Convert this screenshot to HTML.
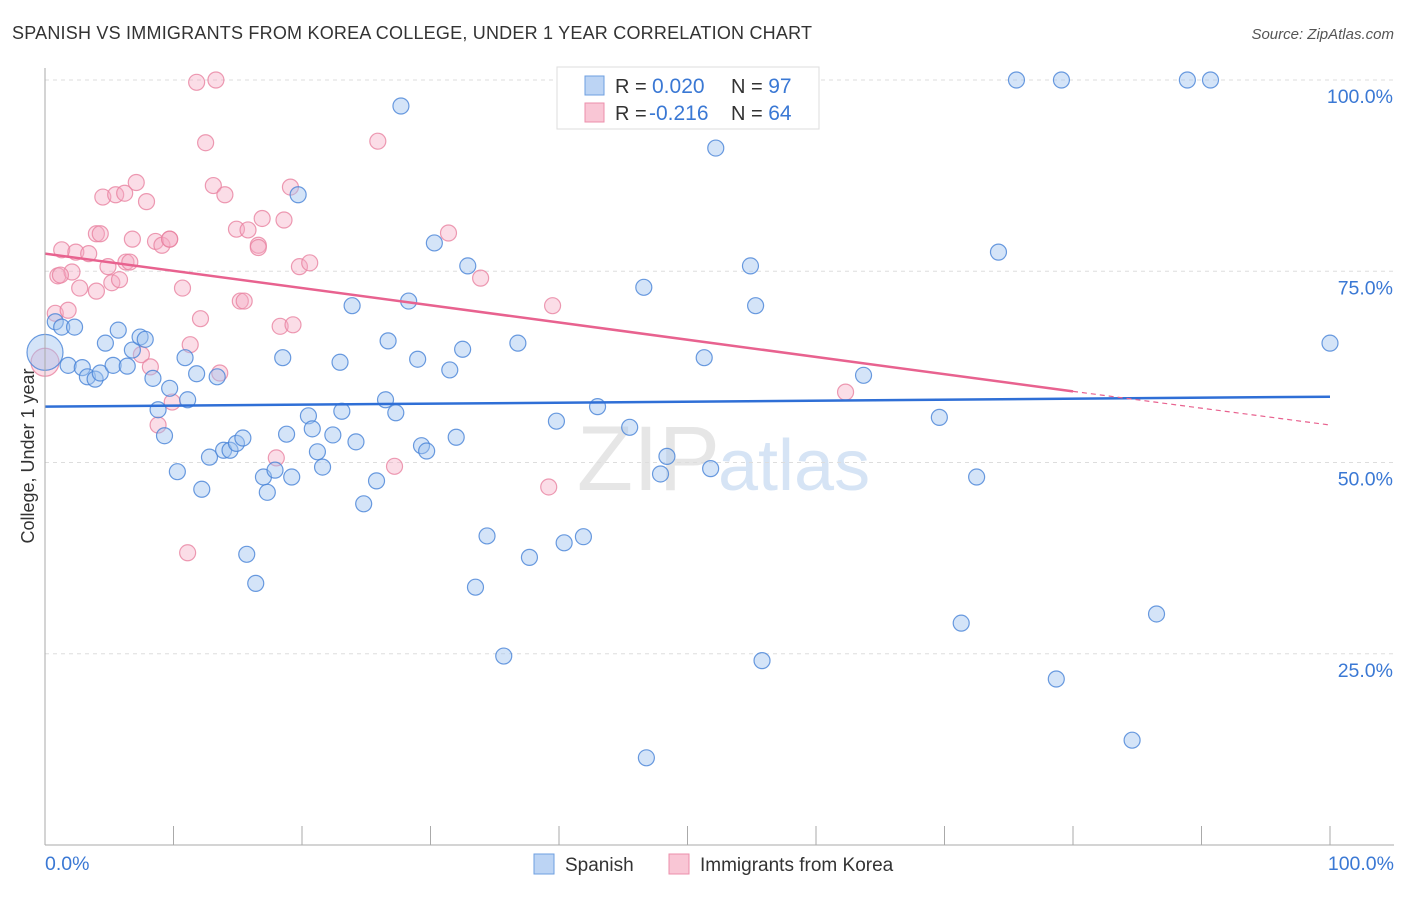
<!DOCTYPE html>
<html><head><meta charset="utf-8"><style>
body{margin:0;background:#fff;font-family:"Liberation Sans",sans-serif;}
svg text{font-family:"Liberation Sans",sans-serif;}
</style></head><body>
<svg id="c" width="1406" height="892">
<text x="12" y="39" font-size="18" fill="#333" textLength="800">SPANISH VS IMMIGRANTS FROM KOREA COLLEGE, UNDER 1 YEAR CORRELATION CHART</text>
<text x="1394" y="39" font-size="15" fill="#555" font-style="italic" text-anchor="end">Source: ZipAtlas.com</text>
<text x="720" y="490" font-size="92" font-family="Liberation Serif" fill="#e6e6e6" text-anchor="end">ZIP</text>
<text x="718" y="490" font-size="72" fill="#d6e4f5">atlas</text>
<g id="grid"></g><g id="pts"></g><g id="lines"></g>
<line x1="45" y1="845" x2="1394" y2="845" stroke="#aaa"/>
<line x1="45" y1="68" x2="45" y2="845" stroke="#aaa"/>
<text transform="translate(34,456) rotate(-90)" font-size="18" fill="#333" text-anchor="middle">College, Under 1 year</text>
<text x="45" y="870" font-size="19.5" fill="#3a78d4">0.0%</text>
<text x="1394" y="870" font-size="19.5" fill="#3a78d4" text-anchor="end">100.0%</text>
<g>
<rect x="557" y="67" width="262" height="62" fill="#fff" stroke="#ddd"/>
<rect x="585" y="76" width="19" height="19" fill="#bcd4f4" stroke="#6e9fe0"/>
<rect x="585" y="103" width="19" height="19" fill="#f9c6d5" stroke="#ec8fab"/>
<text x="615" y="93" font-size="20" fill="#333">R = <tspan x="652" fill="#3a78d4" font-size="21">0.020</tspan><tspan x="731">N = </tspan><tspan fill="#3a78d4" font-size="21">97</tspan></text>
<text x="615" y="120" font-size="20" fill="#333">R = <tspan x="649" fill="#3a78d4" font-size="21">-0.216</tspan><tspan x="731">N = </tspan><tspan fill="#3a78d4" font-size="21">64</tspan></text>
</g>
<g>
<rect x="534" y="854" width="20" height="20" fill="#bcd4f4" stroke="#6e9fe0"/>
<text x="565" y="871" font-size="19" fill="#333">Spanish</text>
<rect x="669" y="854" width="20" height="20" fill="#f9c6d5" stroke="#ec8fab"/>
<text x="700" y="871" font-size="19" fill="#333">Immigrants from Korea</text>
</g>
</svg>
<script>
const yTicks=[25,50,75,100];
const xTicksMinor=[10,20,30,40,50,60,70,80,90,100];
const blueX=[0,0.8,1.3,2.3,1.8,2.9,3.3,3.9,4.3,4.7,5.3,5.7,6.4,6.8,7.4,7.8,8.4,8.8,9.3,9.7,10.3,10.9,11.1,11.8,12.2,12.8,13.4,13.9,14.4,14.9,15.4,15.7,16.4,17,17.3,17.9,18.5,18.8,19.2,19.7,20.5,20.8,21.2,21.6,22.4,22.96,23.1,23.9,24.2,24.8,25.8,26.5,26.7,27.3,27.7,28.3,29,29.3,29.7,30.3,31.5,32,32.5,32.9,33.5,34.4,35.7,36.8,37.7,39.8,40.4,41.9,43,45.5,46.6,46.8,47.9,48.4,51.3,51.8,52.2,54.9,55.3,55.8,63.7,69.6,71.3,72.5,74.2,75.6,78.7,79.1,84.6,86.5,88.9,90.7,100];
const blueY=[64.4,68.4,67.7,67.7,62.7,62.4,61.2,60.9,61.7,65.6,62.7,67.3,62.6,64.7,66.4,66.1,61,56.9,53.5,59.7,48.8,63.7,58.2,61.6,46.5,50.7,61.2,51.6,51.6,52.5,53.2,38,34.2,48.1,46.1,49,63.7,53.7,48.1,85,56.1,54.4,51.4,49.4,53.6,63.1,56.7,70.5,52.7,44.6,47.6,58.2,65.9,56.5,96.6,71.1,63.5,52.2,51.5,78.7,62.1,53.3,64.8,75.7,33.7,40.4,24.7,65.6,37.6,55.4,39.5,40.3,57.3,54.6,72.9,11.4,48.5,50.8,63.7,49.2,91.1,75.7,70.5,24.1,61.4,55.9,29,48.1,77.5,100,21.7,100,13.7,30.2,100,100,65.6];
const pinkX=[0,0.8,1,1.3,1.8,2.1,2.7,2.4,3.4,4,4,4.5,4.9,5.2,5.5,5.8,6.2,6.3,6.8,7.1,7.5,7.9,8.2,8.6,8.8,9.1,9.7,9.9,10.7,11.1,11.3,11.8,12.1,12.5,13.1,13.3,13.6,14,14.9,15.2,15.5,15.8,16.6,16.9,18,18.3,18.6,19.1,19.3,19.8,20.6,25.9,27.2,31.4,33.9,39.2,39.5,62.3,1.2,4.3,9.7,16.6,6.6];
const pinkY=[63.1,69.5,74.4,77.8,69.9,74.9,72.8,77.5,77.3,72.4,79.9,84.7,75.6,73.5,85,73.9,85.2,76.2,79.2,86.6,64.1,84.1,62.5,78.9,54.9,78.4,79.2,57.9,72.8,38.2,65.4,99.7,68.8,91.8,86.2,100,61.7,85,80.5,71.1,71.1,80.4,78.4,81.9,50.6,67.8,81.7,86,68,75.6,76.1,92,49.5,80,74.1,46.8,70.5,59.2,74.5,79.9,79.2,78.1,76.2];
const bLine=[0,100,57.3,58.6];
const pLine=[0,80,77.3,59.3,100,54.9];
const X=v=>45+v*12.85, Y=v=>845-v*7.65;
const NS="http://www.w3.org/2000/svg";
const mk=(t,a,p)=>{const e=document.createElementNS(NS,t);for(const k in a)e.setAttribute(k,a[k]);p.appendChild(e);return e;};
const grid=document.getElementById('grid'),pts=document.getElementById('pts'),lines=document.getElementById('lines');
yTicks.forEach(t=>{
 const l=mk('line',{x1:45,x2:1394,y1:Y(t),y2:Y(t),stroke:'#ddd','stroke-dasharray':'4,4'},grid);
 
 
 const tx=mk('text',{x:1393,y:Y(t)+23,'font-size':19.5,fill:'#3a78d4','text-anchor':'end'},grid);
 tx.textContent=t.toFixed(1)+'%';
 
 
});
xTicksMinor.forEach(t=>{
 const l=mk('line',{x1:X(t),x2:X(t),y1:826,y2:845,stroke:'#aaa'},grid);
 
 
});
function dot(x,y,r,f,s,n){const c=mk('circle',{cx:X(x),cy:Y(y),r:r,fill:f,stroke:s,'stroke-width':1.2},pts);
 
 }
pinkX.forEach((x,i)=>dot(x,pinkY[i],i===0?14:8,'rgba(246,170,195,0.4)','rgba(232,130,160,0.8)','korea-point'));
blueX.forEach((x,i)=>dot(x,blueY[i],i===0?18:8,'rgba(160,195,240,0.45)','rgba(70,130,215,0.8)','spanish-point'));
let l1=mk('line',{x1:X(bLine[0]),x2:X(bLine[1]),y1:Y(bLine[2]),y2:Y(bLine[3]),stroke:'#2f6fd6','stroke-width':2.5},lines);


let l2=mk('line',{x1:X(pLine[0]),x2:X(pLine[1]),y1:Y(pLine[2]),y2:Y(pLine[3]),stroke:'#e8628f','stroke-width':2.5},lines);


let l3=mk('line',{x1:X(pLine[1]),x2:X(pLine[4]),y1:Y(pLine[3]),y2:Y(pLine[5]),stroke:'#e8628f','stroke-width':1.2,'stroke-dasharray':'5,4'},lines);


</script>
</body></html>
